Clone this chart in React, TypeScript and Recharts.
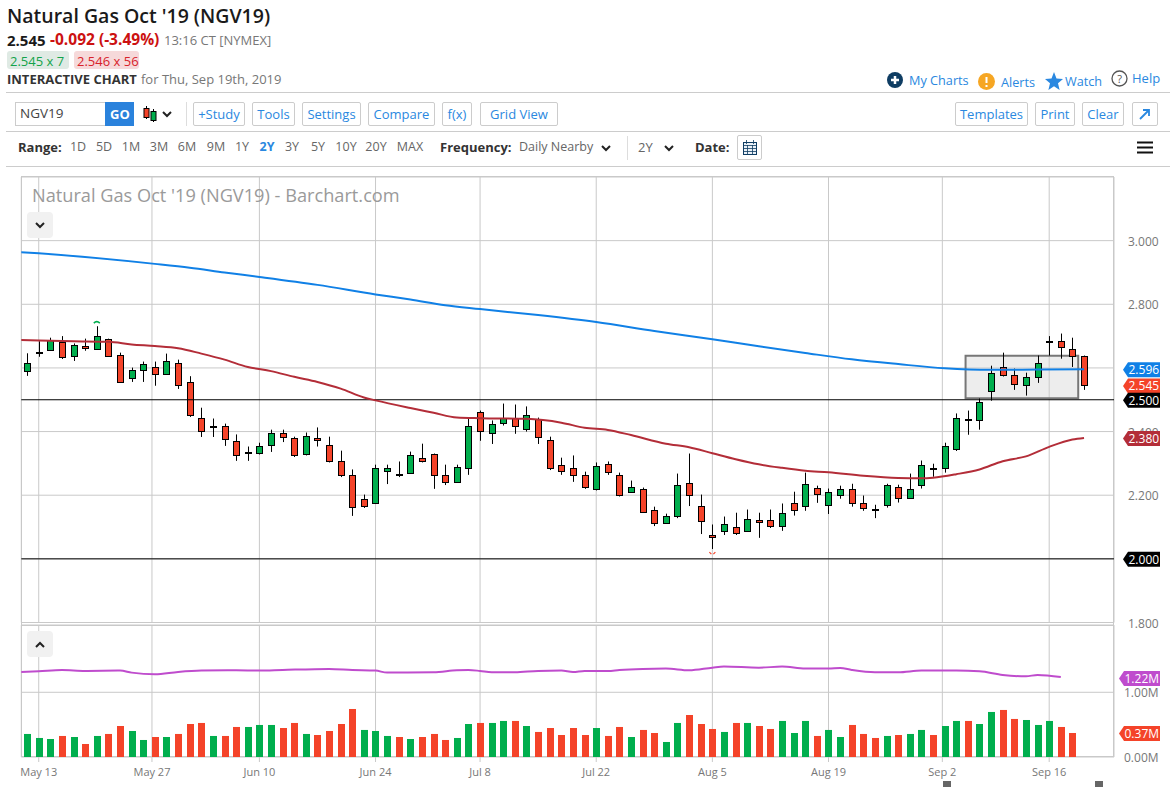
import React from "react";
import { ComposedChart, Bar, Line, XAxis, YAxis, CartesianGrid, ReferenceLine, ReferenceArea, ReferenceDot } from "recharts";

const opens = [2.589,2.648,2.655,2.680,2.636,2.670,2.658,2.692,2.642,2.567,2.592,2.604,2.582,2.617,2.557,2.444,2.416,2.419,2.369,2.337,2.334,2.359,2.397,2.381,2.328,2.381,2.359,2.309,2.265,2.189,2.174,2.277,2.262,2.271,2.318,2.328,2.265,2.240,2.287,2.460,2.397,2.428,2.444,2.409,2.441,2.372,2.296,2.284,2.265,2.218,2.299,2.262,2.211,2.218,2.155,2.114,2.136,2.237,2.167,2.076,2.089,2.101,2.089,2.123,2.123,2.104,2.174,2.167,2.224,2.170,2.202,2.218,2.177,2.156,2.170,2.227,2.192,2.233,2.285,2.287,2.346,2.441,2.435,2.526,2.604,2.579,2.545,2.573,2.686,2.686,2.661,2.639];
const highs = [2.646,2.684,2.695,2.700,2.677,2.692,2.731,2.692,2.648,2.601,2.620,2.620,2.645,2.626,2.574,2.475,2.441,2.425,2.391,2.353,2.365,2.406,2.406,2.384,2.397,2.413,2.384,2.340,2.281,2.202,2.296,2.296,2.306,2.337,2.362,2.331,2.296,2.296,2.444,2.466,2.435,2.488,2.485,2.479,2.444,2.384,2.318,2.325,2.274,2.303,2.306,2.271,2.246,2.224,2.164,2.142,2.268,2.331,2.202,2.108,2.133,2.145,2.155,2.145,2.155,2.174,2.211,2.271,2.230,2.221,2.230,2.236,2.199,2.170,2.236,2.233,2.268,2.309,2.299,2.365,2.457,2.466,2.504,2.607,2.648,2.598,2.585,2.639,2.700,2.708,2.695,2.639];
const lows = [2.575,2.635,2.655,2.628,2.622,2.654,2.658,2.639,2.557,2.556,2.556,2.544,2.582,2.534,2.446,2.383,2.383,2.355,2.308,2.308,2.328,2.336,2.367,2.320,2.325,2.353,2.303,2.257,2.135,2.160,2.174,2.235,2.257,2.268,2.303,2.220,2.232,2.240,2.264,2.371,2.361,2.419,2.393,2.400,2.361,2.279,2.264,2.242,2.220,2.215,2.264,2.196,2.207,2.148,2.103,2.112,2.128,2.166,2.078,2.031,2.075,2.075,2.089,2.066,2.097,2.088,2.136,2.151,2.176,2.141,2.189,2.164,2.151,2.128,2.161,2.177,2.189,2.221,2.258,2.271,2.339,2.390,2.406,2.497,2.573,2.531,2.513,2.553,2.639,2.629,2.603,2.531];
const closes = [2.617,2.651,2.689,2.633,2.673,2.664,2.699,2.639,2.557,2.592,2.611,2.582,2.623,2.545,2.453,2.403,2.413,2.378,2.325,2.334,2.356,2.397,2.384,2.325,2.387,2.372,2.309,2.262,2.164,2.167,2.284,2.284,2.268,2.325,2.306,2.265,2.240,2.290,2.416,2.403,2.425,2.444,2.416,2.453,2.384,2.284,2.277,2.262,2.227,2.293,2.274,2.202,2.227,2.148,2.114,2.136,2.233,2.202,2.120,2.070,2.111,2.082,2.126,2.117,2.104,2.145,2.155,2.236,2.205,2.211,2.218,2.177,2.161,2.154,2.233,2.192,2.221,2.296,2.287,2.356,2.444,2.435,2.494,2.585,2.579,2.551,2.573,2.614,2.680,2.667,2.636,2.545];
const volumes = [0.356,0.294,0.278,0.325,0.309,0.201,0.325,0.356,0.479,0.402,0.263,0.309,0.309,0.356,0.510,0.526,0.325,0.325,0.464,0.464,0.495,0.495,0.448,0.526,0.356,0.340,0.402,0.510,0.742,0.418,0.402,0.325,0.309,0.278,0.309,0.356,0.263,0.294,0.510,0.526,0.526,0.557,0.557,0.479,0.387,0.448,0.340,0.448,0.340,0.448,0.325,0.464,0.309,0.418,0.371,0.232,0.526,0.649,0.510,0.433,0.387,0.526,0.526,0.479,0.433,0.557,0.371,0.557,0.325,0.418,0.309,0.495,0.356,0.294,0.325,0.340,0.356,0.418,0.340,0.479,0.557,0.557,0.510,0.696,0.727,0.588,0.572,0.495,0.557,0.464,0.371,null];
const volumeDirs = "GGGRGRGRRGGRGRRRGRRGGGRRGRRRRGGGRGRRRGGRGGRGRRRRRGRRGRRGGRRRGRGRRGGGRGGRRRGRGGRGGRGGRRGGGRR";

const blueSessions = [-1,1,11,14,17,20,25,30,33,36,39,44,49,54,59,63,67,71,75,79,83,87,91];
const blueValues = [2.965,2.960,2.927,2.915,2.900,2.886,2.861,2.831,2.815,2.797,2.785,2.766,2.744,2.716,2.690,2.668,2.647,2.627,2.612,2.599,2.594,2.595,2.596];
const redSessions = [-1,4,7,9,11,13,15,17,19,21,23,25,27,29,30,33,35,37,39,43,46,48,50,52,55,57,59,61,63,65,67,69,72,75,77,78,80,82,84,86,88,90,91];
const redValues = [2.688,2.684,2.682,2.674,2.669,2.662,2.645,2.626,2.603,2.590,2.572,2.556,2.535,2.507,2.498,2.474,2.459,2.444,2.442,2.440,2.428,2.412,2.405,2.389,2.362,2.351,2.332,2.313,2.297,2.286,2.277,2.272,2.261,2.254,2.253,2.255,2.266,2.281,2.307,2.322,2.352,2.375,2.380];
const purpleSessions = [-1,1,3,5,8,9,11,13,15,18,20,22,26,28,30,31,32,35,37,38,39,40,42,44,46,47,48,50,51,53,55,57,59,60,63,65,67,69,70,71,73,75,77,80,82,84,86,87,89];
const purpleValues = [1.309,1.325,1.345,1.33,1.335,1.304,1.278,1.314,1.335,1.34,1.335,1.345,1.361,1.345,1.335,1.304,1.304,1.309,1.34,1.345,1.33,1.309,1.309,1.33,1.335,1.314,1.33,1.33,1.345,1.361,1.366,1.34,1.381,1.397,1.381,1.397,1.366,1.366,1.376,1.345,1.309,1.309,1.335,1.335,1.325,1.268,1.247,1.268,1.235];

const priceTicks = [1.8, 2.0, 2.2, 2.4, 2.6, 2.8, 3.0];
const taggedTicks = [2.0, 2.6];
const dateSessions = [1, 10.75, 20, 30, 39, 49, 59, 69, 78.8, 88];
const dateLabels = ["May 13", "May 27", "Jun 10", "Jun 24", "Jul 8", "Jul 22", "Aug 5", "Aug 19", "Sep 2", "Sep 16"];
const volumeTicks = [0, 1];

const GREEN = "#00ae4d";
const RED = "#f44329";
const BLUE = "#1080e6";
const MAROON = "#b32d38";
const PURPLE = "#bf4ccd";
const GRID = "#c9c9c9";
const FONT = "'Open Sans', sans-serif";
const X_DOMAIN: [number, number] = [-0.5, 93.58];

const candles = opens.map((o, i) => ({ i, o, h: highs[i], l: lows[i], c: closes[i], range: [lows[i], highs[i]] }));
const volumeRows = volumes.map((v, i) => ({ i, v, up: volumeDirs[i] === "G" }));
const toLine = (xs: number[], ys: number[]) => xs.map((i, k) => ({ i, m: ys[k] }));

function Candle(props: any) {
  const { x, y, width, height, payload } = props;
  const { o, h, l, c } = payload;
  const at = (p: number) => y + ((h - p) / (h - l)) * height;
  const cx = Math.floor(x + width / 2) + 0.5;
  const top = Math.round(at(Math.max(o, c))) + 0.5;
  const bot = Math.round(at(Math.min(o, c))) + 0.5;
  return (
    <g>
      <line x1={cx} x2={cx} y1={y} y2={y + height} stroke="#000" strokeWidth={1} />
      <rect x={cx - 3} y={top} width={6} height={Math.max(bot - top, 1)} fill={c >= o ? GREEN : RED} stroke="#000" strokeWidth={1} />
    </g>
  );
}

function VolumeBar(props: any) {
  const { x, y, width, height, payload } = props;
  if (payload.v == null) return null;
  return <rect x={Math.floor(x + width / 2) - 3} y={y} width={7} height={height} fill={payload.up ? GREEN : RED} />;
}

const tagLabel = (text: string, fill: string, gap = 9) => (props: any) => {
  const vb = props.viewBox;
  const y = vb.y + 0.5;
  const left = vb.x + vb.width + gap;
  const right = 1160;
  const d = `M${left} ${y} L${left + 5} ${y - 7.5} H${right} V${y + 7.5} H${left + 5} Z`;
  return (
    <g>
      <path d={d} fill={fill} />
      <text x={left + 5.5} y={y + 4.3} fill="#fff" fontSize={12} fontFamily={FONT}>{text}</text>
    </g>
  );
};

const priceTick = (props: any) =>
  taggedTicks.includes(props.payload.value) ? <g /> : (
    <text x={1128} y={props.y + 5} fill="#777" fontSize={12} fontFamily={FONT}>{props.payload.value.toFixed(3)}</text>
  );
const volumeTick = (props: any) => (
  <text x={1124} y={props.y + 4.5} fill="#777" fontSize={12} fontFamily={FONT}>{props.payload.value.toFixed(2) + "M"}</text>
);
const dateTick = (props: any) => (
  <text x={props.x} y={776} fill="#777" fontSize={11} fontFamily={FONT} textAnchor="middle">
    {dateLabels[dateSessions.indexOf(props.payload.value)]}
  </text>
);

const T = ({ x, y, s = 13, c = "#777", w = 400, children }: any) => (
  <div style={{ position: "absolute", left: x, top: y, transform: "translateY(-50%)", fontFamily: FONT, fontSize: s, color: c, fontWeight: w, whiteSpace: "nowrap", lineHeight: 1 }}>{children}</div>
);
const Btn = ({ x, x2, y = 102, h = 24, children }: any) => (
  <div style={{ position: "absolute", left: x, top: y, width: x2 - x, height: h, boxSizing: "border-box", border: "1px solid #ccc", borderRadius: 2, fontFamily: FONT, fontSize: 13, color: "#2a88e0", display: "flex", alignItems: "center", justifyContent: "center", whiteSpace: "nowrap", background: "#fff" }}>{children}</div>
);
const Rule = ({ y }: any) => <div style={{ position: "absolute", left: 6, right: 0, top: y, height: 1, background: "#ccc" }} />;
const Chevron = ({ x, y, up = false }: any) => (
  <svg style={{ position: "absolute", left: x - 6, top: y - 5 }} width={12} height={10}>
    <path d={up ? "M2 7 L6 3 L10 7" : "M2 3 L6 7 L10 3"} fill="none" stroke="#222" strokeWidth={2} />
  </svg>
);

const rangeLabels = ["1D", "5D", "1M", "3M", "6M", "9M", "1Y", "2Y", "3Y", "5Y", "10Y", "20Y", "MAX"];
const rangeCenters = [78, 104, 131, 159, 187, 216, 242, 267, 292, 318, 346, 376, 410];
const buttonLabels = ["+Study", "Tools", "Settings", "Compare", "f(x)", "Grid View", "Templates", "Print", "Clear"];
const buttonEdges = [[193, 245], [252, 295], [302, 361], [368, 435], [442, 472], [480, 558], [955, 1028], [1035, 1075], [1082, 1124]];

export default function App() {
  return (
    <div style={{ position: "absolute", left: 0, top: 0, width: 1170, height: 787, overflow: "hidden", background: "#fff" }}>
      <div style={{ position: "absolute", left: 21, top: 176, width: 1093, height: 581, boxSizing: "border-box", border: `1px solid ${GRID}` }} />
      <div style={{ position: "absolute", left: 21, top: 625, width: 1093, height: 1, background: GRID }} />

      <div style={{ position: "absolute", left: 0, top: 0 }}>
        <ComposedChart width={1170} height={640} data={candles} margin={{ top: 177, left: 21.3, right: 0, bottom: 17.5 }}>
          <CartesianGrid stroke={GRID} strokeWidth={1} />
          <XAxis dataKey="i" type="number" domain={X_DOMAIN} ticks={dateSessions} allowDataOverflow hide />
          <YAxis orientation="right" width={56} domain={[1.8, 3.2]} ticks={priceTicks} allowDataOverflow axisLine={false} tickLine={false} tick={priceTick} />
          <ReferenceLine y={2.5} stroke="#000" strokeWidth={1} />
          <ReferenceLine y={2.0} stroke="#000" strokeWidth={1} />
          <Line type="monotone" data={toLine(redSessions, redValues)} dataKey="m" stroke={MAROON} strokeWidth={2} dot={false} isAnimationActive={false} />
          <Line type="monotone" data={toLine(blueSessions, blueValues)} dataKey="m" stroke={BLUE} strokeWidth={2} dot={false} isAnimationActive={false} />
          <Bar dataKey="range" barSize={8.52} shape={Candle} isAnimationActive={false} />
          <ReferenceArea x1={80.8} x2={90.5} y1={2.505} y2={2.638} fill="#cfcfcf" fillOpacity={0.38} stroke="#777" strokeWidth={2} isFront />
          <ReferenceDot x={6} y={2.744} isFront shape={(p: any) => <path d={`M${p.cx - 3} ${p.cy + 1} Q${p.cx} ${p.cy - 2} ${p.cx + 3} ${p.cy + 1}`} fill="none" stroke={GREEN} strokeWidth={1.5} />} />
          <ReferenceDot x={59} y={2.018} isFront shape={(p: any) => <path d={`M${p.cx - 3} ${p.cy - 1} L${p.cx - 1} ${p.cy + 1} M${p.cx + 3} ${p.cy - 1} L${p.cx + 1} ${p.cy + 1}`} fill="none" stroke={RED} strokeWidth={1.2} />} />
        </ComposedChart>
      </div>

      <div style={{ position: "absolute", left: 0, top: 0 }}>
        <ComposedChart width={1170} height={787} data={volumeRows} margin={{ top: 625, left: 21.3, right: 0, bottom: 0 }}>
          <CartesianGrid stroke={GRID} strokeWidth={1} />
          <XAxis dataKey="i" type="number" domain={X_DOMAIN} ticks={dateSessions} allowDataOverflow height={30} axisLine={false} tickLine={{ stroke: GRID }} tickSize={5} tick={dateTick} />
          <YAxis orientation="right" width={56} domain={[0, 2.04]} ticks={volumeTicks} allowDataOverflow axisLine={false} tickLine={false} tick={volumeTick} />
          <Line type="monotone" data={toLine(purpleSessions, purpleValues)} dataKey="m" stroke={PURPLE} strokeWidth={2} dot={false} isAnimationActive={false} />
          <Bar dataKey="v" barSize={8.52} shape={VolumeBar} isAnimationActive={false} />
          <ReferenceLine y={1.22} stroke="none" isFront label={tagLabel("1.22M", PURPLE, 5)} />
          <ReferenceLine y={0.37} stroke="none" isFront label={tagLabel("0.37M", RED, 5)} />
        </ComposedChart>
      </div>

      <div style={{ position: "absolute", left: 0, top: 0 }}>
        <ComposedChart width={1170} height={640} data={candles} margin={{ top: 177, left: 21.3, right: 56, bottom: 17.5 }}>
          <XAxis dataKey="i" type="number" domain={X_DOMAIN} allowDataOverflow hide />
          <YAxis domain={[1.8, 3.2]} allowDataOverflow hide />
          <ReferenceLine y={2.38} stroke="none" label={tagLabel("2.380", MAROON)} />
          <ReferenceLine y={2.596} stroke="none" label={tagLabel("2.596", BLUE)} />
          <ReferenceLine y={2.545} stroke="none" label={tagLabel("2.545", RED)} />
          <ReferenceLine y={2.5} stroke="none" label={tagLabel("2.500", "#000")} />
          <ReferenceLine y={2.0} stroke="none" label={tagLabel("2.000", "#000")} />
        </ComposedChart>
      </div>

      <T x={32} y={195} s={18.2} c="#9a9a9a">Natural Gas Oct '19 (NGV19) - Barchart.com</T>
      <div style={{ position: "absolute", left: 27, top: 212, width: 26, height: 26, background: "#f1f1f1", borderRadius: 4 }} />
      <Chevron x={40} y={225} />
      <div style={{ position: "absolute", left: 27, top: 631, width: 26, height: 26, background: "#f1f1f1", borderRadius: 4 }} />
      <Chevron x={40} y={645} up />
      <div style={{ position: "absolute", left: 943, top: 781, width: 8, height: 6, background: "#666" }} />
      <div style={{ position: "absolute", left: 1095, top: 781, width: 8, height: 6, background: "#666" }} />

      <T x={7} y={16} s={19.5} c="#1a1a1a" w={600}>Natural Gas Oct '19 (NGV19)</T>
      <T x={7} y={40} s={15} c="#1a1a1a" w={700}>2.545</T>
      <T x={50} y={40} s={15.5} c="#cc1111" w={700}>-0.092 (-3.49%)</T>
      <T x={164} y={40} s={13} c="#777">13:16 CT [NYMEX]</T>
      <div style={{ position: "absolute", left: 7, top: 51, width: 62, height: 18, background: "#dfeae4", borderRadius: 3 }} />
      <T x={10} y={60.5} s={13} c="#13a34a">2.545 x 7</T>
      <div style={{ position: "absolute", left: 74, top: 51, width: 65, height: 18, background: "#f6d9da", borderRadius: 3 }} />
      <T x={77} y={60.5} s={13} c="#d8222a">2.546 x 56</T>
      <T x={7} y={79} s={13} c="#333" w={700}>INTERACTIVE CHART</T>
      <T x={141} y={79} s={13} c="#777">for Thu, Sep 19th, 2019</T>
      <Rule y={92} />
      <Rule y={131} />
      <Rule y={166} />

      <svg style={{ position: "absolute", left: 887, top: 72 }} width={16} height={16}><circle cx={8} cy={8} r={8} fill="#0f3d63" /><path d="M8 4 V12 M4 8 H12" stroke="#fff" strokeWidth={2.5} /></svg>
      <T x={909} y={80} s={12.7} c="#2a88e0">My Charts</T>
      <svg style={{ position: "absolute", left: 978, top: 73 }} width={17} height={17}><circle cx={8.5} cy={8.5} r={8.5} fill="#f6a623" /><path d="M8.5 4 V10 M8.5 12 V14" stroke="#fff" strokeWidth={2} /></svg>
      <T x={1001} y={82} s={12.7} c="#2a88e0">Alerts</T>
      <svg style={{ position: "absolute", left: 1045, top: 72 }} width={18} height={18}><path d="M9 0 L11.5 6.5 L18 7 L13 11.2 L14.6 18 L9 14.3 L3.4 18 L5 11.2 L0 7 L6.5 6.5 Z" fill="#2a88e0" /></svg>
      <T x={1065} y={81} s={12.7} c="#2a88e0">Watch</T>
      <svg style={{ position: "absolute", left: 1111, top: 70 }} width={17} height={17}><circle cx={8.5} cy={8.5} r={7.5} fill="none" stroke="#555" strokeWidth={1.3} /><text x={8.5} y={12.5} textAnchor="middle" fontSize={11} fontFamily={FONT} fill="#555">?</text></svg>
      <T x={1132} y={78} s={13} c="#2a88e0">Help</T>

      <div style={{ position: "absolute", left: 15, top: 102, width: 91, height: 24, boxSizing: "border-box", border: "1px solid #ccc", background: "#fff" }} />
      <T x={20} y={114} s={13.5} c="#444">NGV19</T>
      <div style={{ position: "absolute", left: 105, top: 102, width: 29, height: 24, background: "#2a82dc" }} />
      <T x={110} y={114} s={13} c="#fff" w={700}>GO</T>
      <svg style={{ position: "absolute", left: 142, top: 105 }} width={16} height={18}>
        <path d="M4.5 1 V14 M11.5 4 V17" stroke="#000" />
        <rect x={2} y={3.5} width={5} height={9} fill={RED} stroke="#000" />
        <rect x={9} y={6.5} width={5} height={9} fill={GREEN} stroke="#000" />
      </svg>
      <Chevron x={167} y={114} />
      <div style={{ position: "absolute", left: 186, top: 102, width: 1, height: 24, background: "#ddd" }} />
      {buttonLabels.map((b, i) => (
        <Btn key={b} x={buttonEdges[i][0]} x2={buttonEdges[i][1]}>{b}</Btn>
      ))}
      <Btn x={1132} x2={1158}>
        <svg width={12} height={12}><path d="M1 11 L10 2 M4 2 H10 V8" fill="none" stroke="#2a88e0" strokeWidth={1.8} /></svg>
      </Btn>

      <T x={18} y={147} s={13} c="#333" w={700}>Range:</T>
      {rangeLabels.map((r, i) => (
        <div key={r} style={{ position: "absolute", left: rangeCenters[i] - 20, width: 40, top: 140, textAlign: "center", fontFamily: FONT, fontSize: 12.5, lineHeight: "14px", color: r === "2Y" ? "#2a88e0" : "#666", fontWeight: r === "2Y" ? 700 : 400 }}>{r}</div>
      ))}
      <T x={440} y={147} s={13} c="#333" w={700}>Frequency:</T>
      <T x={519} y={147} s={12.5} c="#666">Daily Nearby</T>
      <Chevron x={606} y={148} />
      <div style={{ position: "absolute", left: 627, top: 136, width: 1, height: 24, background: "#ddd" }} />
      <T x={638} y={147} s={13} c="#666">2Y</T>
      <Chevron x={669} y={148} />
      <T x={695} y={147} s={13} c="#333" w={700}>Date:</T>
      <Btn x={737} x2={762} y={135} h={25}>
        <svg width={14} height={15}>
          <rect x={0.5} y={2.5} width={13} height={12} fill="#eaf1f8" stroke="#0f3d63" />
          <path d="M0.5 5.5 H13.5 M3.5 0 V4 M10.5 0 V4 M0.5 8.5 H13.5 M0.5 11.5 H13.5 M4.5 5 V14 M9.5 5 V14" stroke="#0f3d63" strokeWidth={0.8} />
        </svg>
      </Btn>
      <svg style={{ position: "absolute", left: 1137, top: 141 }} width={16} height={13}><path d="M0 1.5 H16 M0 6.5 H16 M0 11.5 H16" stroke="#111" strokeWidth={2} /></svg>
    </div>
  );
}
